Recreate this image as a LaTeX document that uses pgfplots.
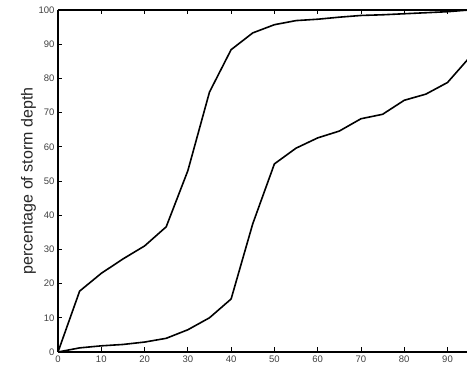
\documentclass[border=0pt]{standalone}
\usepackage{pgfplots}
\pgfplotsset{compat=1.18}
\usepackage{fontspec}
\setmainfont{Liberation Sans}
\definecolor{ticklab}{HTML}{404040}
\begin{document}
\begin{tikzpicture}
\useasboundingbox (-58pt,-14pt) rectangle (409pt,352pt);
\begin{axis}[
  at={(0,0)}, anchor=south west,
  scale only axis, width=409pt, height=342pt,
  xmin=0, xmax=94.5, ymin=0, ymax=100,
  axis x line*=box, axis y line*=left,
  axis line style={-, line width=1.1pt, black},
  xtick={0,10,...,90}, ytick={0,10,...,100},
  xtick pos=both, ytick pos=left,
  tick align=inside,
  major tick length=4.5pt,
  tick style={black, line width=0.8pt},
  /pgf/number format/assume math mode=true,
  tick label style={font=\fontsize{9.5}{10}\selectfont, text=ticklab},
  ylabel={percentage of storm depth},
  ylabel style={at={(axis description cs:-0.0721,0.5)}, anchor=center, rotate=0, font=\fontsize{16}{17}\selectfont, text=black!85},
]
\addplot[black, line width=1.6pt] coordinates {
(0,0) (5,17.8) (10,23) (15,27.2) (20,31) (25,36.6) (30,53) (35,76) (40,88.4) (45,93.3) (50,95.7) (55,96.9) (60,97.3) (65,97.9) (70,98.4) (75,98.6) (80,98.9) (85,99.2) (90,99.5) (95,100)
};
\addplot[black, line width=1.6pt] coordinates {
(0,0) (5,1.2) (10,1.8) (15,2.2) (20,2.9) (25,4) (30,6.5) (35,10) (40,15.5) (45,37.5) (50,55) (55,59.6) (60,62.6) (65,64.6) (70,68.2) (75,69.5) (80,73.6) (85,75.4) (90,78.8) (95,86)
};
\end{axis}
\end{tikzpicture}
\end{document}
